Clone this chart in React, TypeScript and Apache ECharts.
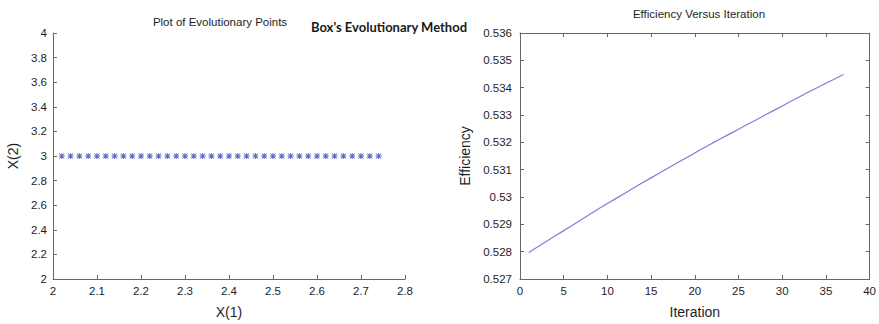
import React, { useEffect, useRef } from "react";
import * as echarts from "echarts";

const leftTitle = "Plot of Evolutionary Points";
const centerTitle = "Box's Evolutionary Method";
const rightTitle = "Efficiency Versus Iteration";

const x1Points = [
  2.02, 2.04, 2.06, 2.08, 2.1, 2.12, 2.14, 2.16, 2.18, 2.2, 2.22, 2.24, 2.26,
  2.28, 2.3, 2.32, 2.34, 2.36, 2.38, 2.4, 2.42, 2.44, 2.46, 2.48, 2.5, 2.52,
  2.54, 2.56, 2.58, 2.6, 2.62, 2.64, 2.66, 2.68, 2.7, 2.72, 2.74,
];
const x2Points = [
  3, 3, 3, 3, 3, 3, 3, 3, 3, 3, 3, 3, 3, 3, 3, 3, 3, 3, 3, 3, 3, 3, 3, 3, 3, 3,
  3, 3, 3, 3, 3, 3, 3, 3, 3, 3, 3,
];

const iterations = [
  1, 2, 3, 4, 5, 6, 7, 8, 9, 10, 11, 12, 13, 14, 15, 16, 17, 18, 19, 20, 21, 22,
  23, 24, 25, 26, 27, 28, 29, 30, 31, 32, 33, 34, 35, 36, 37,
];
const efficiency = [
  0.52797, 0.52817, 0.52837, 0.52857, 0.52877, 0.52897, 0.52917, 0.52937,
  0.52957, 0.52976, 0.52995, 0.53014, 0.53033, 0.53052, 0.5307, 0.53089,
  0.53107, 0.53125, 0.53143, 0.53161, 0.53179, 0.53197, 0.53214, 0.53231,
  0.53248, 0.53265, 0.53282, 0.53299, 0.53316, 0.53333, 0.5335, 0.53367,
  0.53384, 0.534, 0.53416, 0.53432, 0.53448,
];

const FONT = "'Liberation Sans', Arial, sans-serif";
const AXIS_COLOR = "#666666";
const LABEL_COLOR = "#1e1e1e";

const ASTERISK =
  "path://M4.2,0H5.8V4.2H10V5.8H5.8V10H4.2V5.8H0V4.2H4.2Z" +
  "M1.4,0.3L5,3.9L8.6,0.3L9.7,1.4L6.1,5L9.7,8.6L8.6,9.7L5,6.1L1.4,9.7L0.3,8.6L3.9,5L0.3,1.4Z";

export default function App() {
  const ref = useRef<HTMLDivElement>(null);
  useEffect(() => {
    if (!ref.current) return;
    const chart = echarts.init(ref.current, null, { renderer: "svg" });
    const labelStyle = { color: LABEL_COLOR, fontFamily: FONT, fontSize: 11.5 };
    const nameStyle = { color: LABEL_COLOR, fontFamily: FONT, fontSize: 14 };
    const lineStyle = { color: AXIS_COLOR, width: 1 };
    const tick = { show: true, inside: true, length: 4, lineStyle };
    chart.setOption({
      animation: false,
      backgroundColor: "#ffffff",
      grid: [
        { left: 53, right: 474, top: 33, bottom: 44 },
        { left: 520, right: 7, top: 33, bottom: 44 },
      ],
      xAxis: [
        {
          type: "value",
          gridIndex: 0,
          min: 2,
          max: 2.8,
          interval: 0.1,
          name: "X(1)",
          nameLocation: "middle",
          nameGap: 26,
          nameTextStyle: nameStyle,
          axisLine: { show: true, onZero: false, lineStyle },
          axisTick: tick,
          axisLabel: {
            ...labelStyle,
            margin: 6,
            formatter: (v: number) => String(+v.toFixed(1)),
          },
          splitLine: { show: false },
        },
        {
          type: "value",
          gridIndex: 1,
          min: 0,
          max: 40,
          interval: 5,
          name: "Iteration",
          nameLocation: "middle",
          nameGap: 26,
          nameTextStyle: nameStyle,
          axisLine: { show: true, onZero: false, lineStyle },
          axisTick: tick,
          axisLabel: { ...labelStyle, margin: 6 },
          splitLine: { show: false },
        },
        {
          type: "value",
          gridIndex: 1,
          position: "top",
          min: 0,
          max: 40,
          interval: 5,
          axisLine: { show: true, onZero: false, lineStyle },
          axisTick: tick,
          axisLabel: { show: false },
          splitLine: { show: false },
        },
      ],
      yAxis: [
        {
          type: "value",
          gridIndex: 0,
          min: 2,
          max: 4,
          interval: 0.2,
          name: "X(2)",
          nameLocation: "middle",
          nameGap: 33,
          nameTextStyle: nameStyle,
          axisLine: { show: true, onZero: false, lineStyle },
          axisTick: tick,
          axisLabel: {
            ...labelStyle,
            margin: 6,
            formatter: (v: number) => String(+v.toFixed(1)),
          },
          splitLine: { show: false },
        },
        {
          type: "value",
          gridIndex: 1,
          min: 0.527,
          max: 0.536,
          interval: 0.001,
          name: "Efficiency",
          nameLocation: "middle",
          nameGap: 48,
          nameTextStyle: nameStyle,
          axisLine: { show: true, onZero: false, lineStyle },
          axisTick: tick,
          axisLabel: {
            ...labelStyle,
            margin: 8,
            formatter: (v: number) => String(+v.toFixed(3)),
          },
          splitLine: { show: false },
        },
        {
          type: "value",
          gridIndex: 1,
          position: "right",
          min: 0.527,
          max: 0.536,
          interval: 0.001,
          axisLine: { show: true, onZero: false, lineStyle },
          axisTick: tick,
          axisLabel: { show: false },
          splitLine: { show: false },
        },
      ],
      graphic: [
        {
          type: "text",
          x: 220,
          y: 22,
          style: {
            text: leftTitle,
            fill: LABEL_COLOR,
            font: `11.5px ${FONT}`,
            textAlign: "center",
            textVerticalAlign: "middle",
          },
        },
        {
          type: "text",
          x: 389,
          y: 27,
          style: {
            text: centerTitle,
            fill: "#1a1a1a",
            font: `bold 13px Lato, 'Open Sans', sans-serif`,
            textAlign: "center",
            textVerticalAlign: "middle",
          },
        },
        {
          type: "text",
          x: 699,
          y: 14,
          style: {
            text: rightTitle,
            fill: LABEL_COLOR,
            font: `11.5px ${FONT}`,
            textAlign: "center",
            textVerticalAlign: "middle",
          },
        },
      ],
      series: [
        {
          type: "scatter",
          xAxisIndex: 0,
          yAxisIndex: 0,
          symbol: ASTERISK,
          symbolSize: 6,
          itemStyle: { color: "#3547c4" },
          data: x1Points.map((x, i) => [x, x2Points[i]]),
        },
        {
          type: "line",
          xAxisIndex: 1,
          yAxisIndex: 1,
          showSymbol: false,
          symbol: "none",
          lineStyle: { color: "#7a7fdc", width: 1.2 },
          data: iterations.map((x, i) => [x, efficiency[i]]),
        },
      ],
    });
    return () => chart.dispose();
  }, []);
  return (
    <div
      ref={ref}
      style={{ position: "fixed", left: 0, top: 0, width: 879, height: 324 }}
    />
  );
}
